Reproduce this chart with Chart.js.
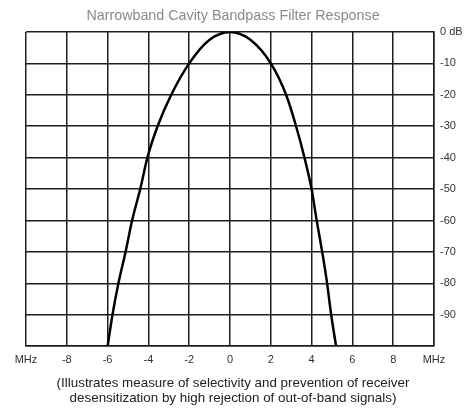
<!DOCTYPE html>
<html>
<head>
<meta charset="utf-8">
<script src="https://cdn.jsdelivr.net/npm/chart.js@4.4.1/dist/chart.umd.min.js"></script>
<style>
  html, body { margin: 0; padding: 0; background: #fff; }
  #wrap { width: 466px; height: 410px; position: relative; }
</style>
</head>
<body>
<div id="wrap"><canvas id="filter-chart"></canvas></div>
<script>
// frequency offset from centre (MHz) and attenuation (dB)
const freqMHz = [-6, -5.76, -5.47, -5.12, -4.8, -4.4, -4.05, -3.55, -2.88, -2, -1, 0, 1, 2, 2.75, 3.24, 3.65, 4, 4.25, 4.52, 4.76, 4.96, 5.2];
const responseDb = [-100, -90, -80, -70, -60, -50, -40, -30, -20, -10, -2.5, 0, -2.5, -10, -20, -30, -40, -50, -60, -70, -80, -90, -100];

const xTicks = [-10, -8, -6, -4, -2, 0, 2, 4, 6, 8, 10];
const yTicks = [0, -10, -20, -30, -40, -50, -60, -70, -80, -90, -100];

const chartTitle = 'Narrowband Cavity Bandpass Filter Response';
const caption = [
  '(Illustrates measure of selectivity and prevention of receiver',
  'desensitization by high rejection of out-of-band signals)'
];

const FONT = '"Liberation Sans", Arial, sans-serif';
const GRID = '#1e1e1e';

const ctx = document.getElementById('filter-chart').getContext('2d');

new Chart(ctx, {
  type: 'line',
  data: {
    datasets: [{
      label: 'Response',
      data: freqMHz.map((f, i) => ({ x: f, y: responseDb[i] })),
      borderColor: '#000',
      borderWidth: 2.5,
      pointRadius: 0,
      fill: false,
      cubicInterpolationMode: 'monotone'
    }]
  },
  options: {
    responsive: true,
    maintainAspectRatio: false,
    animation: false,
    layout: { padding: 0 },
    plugins: {
      legend: { display: false },
      tooltip: { enabled: false },
      title: {
        display: true,
        text: chartTitle,
        color: '#8a8a8a',
        font: { family: FONT, size: 14.3, weight: 'normal', lineHeight: 1.2 },
        padding: { top: 7, bottom: 7.8 }
      },
      subtitle: {
        display: true,
        position: 'bottom',
        text: caption,
        color: '#222',
        font: { family: FONT, size: 13.4, weight: 'normal', lineHeight: 1.15 },
        padding: { top: 0, bottom: 4 }
      }
    },
    scales: {
      x: {
        type: 'linear',
        min: -10,
        max: 10,
        afterBuildTicks: (scale) => { scale.ticks = xTicks.map(v => ({ value: v })); },
        afterFit: (scale) => { scale.height = 29; },
        border: { color: GRID, width: 1.5 },
        grid: { color: GRID, lineWidth: 1.5, drawTicks: false },
        ticks: {
          padding: 7,
          maxRotation: 0,
          color: '#333',
          font: { family: FONT, size: 11 },
          callback: (v) => (Math.abs(v) === 10 ? 'MHz' : v)
        }
      },
      y: {
        position: 'right',
        min: -100,
        max: 0,
        afterBuildTicks: (scale) => { scale.ticks = yTicks.map(v => ({ value: v })); },
        afterFit: (scale) => { scale.width = 32; },
        border: { color: GRID, width: 1.5 },
        grid: { color: GRID, lineWidth: 1.5, drawTicks: false },
        ticks: {
          padding: 6,
          color: '#333',
          font: { family: FONT, size: 11 },
          callback: (v) => (v === 0 ? '0 dB' : v === -100 ? '' : v)
        }
      },
      // empty spacer on the left so the title and caption centre on the page
      yLeft: {
        position: 'left',
        min: -100,
        max: 0,
        afterFit: (scale) => { scale.width = 26; },
        border: { display: false },
        grid: { display: false, drawTicks: false },
        ticks: { display: false }
      }
    }
  }
});
</script>
</body>
</html>
